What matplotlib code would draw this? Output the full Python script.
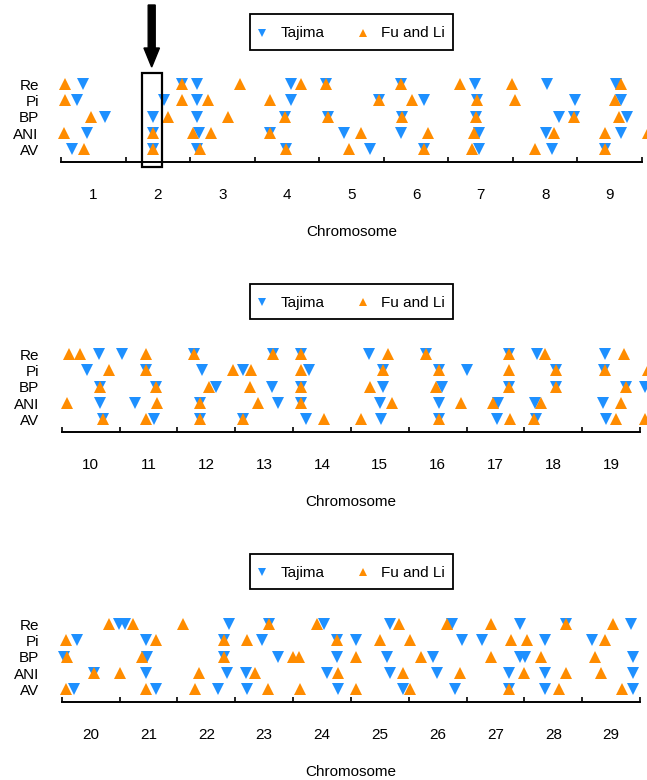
import numpy as np
import matplotlib
matplotlib.use("Agg")
import matplotlib.pyplot as plt
from matplotlib.lines import Line2D
from matplotlib.patches import Rectangle, FancyArrow
from matplotlib.legend_handler import HandlerLine2D

plt.rcParams['font.family'] = ['Liberation Sans', 'DejaVu Sans']

W, H = 647, 780
row_names = ["Re", "Pi", "BP", "ANI", "AV"]
row_y = {"Re": 5, "Pi": 4, "BP": 3, "ANI": 2, "AV": 1}

series_names = ["Tajima", "Fu and Li"]
blue = "#1E90FF"
orange = "#FF8C00"

# Panel 1: chromosomes 1-9 (positions in chromosome units, chromosome c spans c-0.5..c+0.5)
p1_chromosomes = [1, 2, 3, 4, 5, 6, 7, 8, 9]
p1_tajima = {
    "Re":  [0.84, 2.37, 2.60, 4.07, 4.61, 5.76, 6.91, 8.03, 9.10],
    "Pi":  [0.75, 2.09, 2.60, 4.07, 5.42, 6.13, 6.95, 8.46, 9.18],
    "BP":  [1.18, 1.93, 2.60, 3.97, 4.64, 5.79, 6.93, 8.22, 8.45, 9.27],
    "ANI": [0.91, 1.93, 2.63, 3.74, 4.88, 5.76, 6.97, 8.02, 9.17],
    "AV":  [0.67, 1.93, 2.60, 3.99, 5.29, 6.12, 6.98, 8.10, 8.92],
}
p1_fuli = {
    "Re":  [0.56, 2.37, 3.27, 4.22, 4.61, 5.76, 6.68, 7.48, 9.18],
    "Pi":  [0.56, 2.37, 2.78, 3.74, 5.42, 5.93, 6.95, 7.54, 9.08],
    "BP":  [0.96, 2.15, 3.09, 3.97, 4.64, 5.79, 6.93, 8.45, 9.15],
    "ANI": [0.55, 1.93, 2.55, 2.82, 3.74, 5.14, 6.19, 6.90, 8.14, 8.92, 9.59],
    "AV":  [0.86, 1.93, 2.65, 3.99, 4.96, 6.12, 6.86, 7.84, 8.92],
}

# Panel 2: chromosomes 10-19
p2_chromosomes = [10, 11, 12, 13, 14, 15, 16, 17, 18, 19]
p2_tajima = {
    "Re":  [10.15, 10.54, 11.78, 13.16, 13.64, 14.82, 15.80, 17.24, 17.72, 18.90],
    "Pi":  [9.93, 10.96, 11.92, 12.64, 13.77, 15.05, 16.03, 16.51, 18.05, 18.87],
    "BP":  [10.17, 11.13, 12.16, 13.14, 13.64, 15.05, 16.07, 17.23, 18.05, 19.25, 19.58],
    "ANI": [10.17, 10.76, 11.89, 13.24, 13.64, 15.01, 16.03, 17.05, 17.69, 18.86],
    "AV":  [10.22, 11.10, 11.89, 12.63, 13.72, 15.02, 16.03, 17.03, 17.71, 18.92],
}
p2_fuli = {
    "Re":  [9.63, 9.82, 10.96, 11.78, 13.16, 13.64, 15.15, 15.80, 17.24, 17.85, 19.22],
    "Pi":  [10.32, 10.96, 12.47, 12.77, 13.64, 15.05, 16.03, 17.23, 18.05, 18.90, 19.64],
    "BP":  [10.17, 11.13, 12.04, 12.76, 13.64, 14.83, 15.98, 17.23, 18.05, 19.25],
    "ANI": [9.60, 11.14, 11.89, 12.89, 13.64, 15.22, 16.40, 16.95, 17.78, 19.17],
    "AV":  [10.22, 10.96, 11.89, 12.63, 14.03, 14.67, 16.03, 17.26, 17.67, 19.09, 19.58],
}

# Panel 3: chromosomes 20-29
p3_chromosomes = [20, 21, 22, 23, 24, 25, 26, 27, 28, 29]
p3_tajima = {
    "Re":  [20.49, 20.60, 22.40, 23.09, 24.03, 25.17, 26.25, 27.43, 28.22, 29.35],
    "Pi":  [19.77, 20.96, 22.31, 22.97, 24.26, 24.59, 26.42, 26.77, 27.86, 28.67],
    "BP":  [19.54, 20.98, 22.30, 23.24, 24.26, 25.13, 25.92, 27.42, 27.52, 29.38],
    "ANI": [20.06, 20.96, 22.35, 22.69, 24.08, 25.17, 25.99, 27.23, 27.86, 29.38],
    "AV":  [19.72, 21.13, 22.21, 22.70, 24.28, 25.40, 26.30, 27.23, 27.86, 29.38],
}
p3_fuli = {
    "Re":  [20.31, 20.74, 21.59, 23.09, 23.91, 25.34, 26.16, 26.93, 28.22, 29.04],
    "Pi":  [19.57, 21.13, 22.31, 22.70, 24.26, 25.00, 25.53, 27.27, 27.55, 28.90],
    "BP":  [19.60, 20.89, 22.30, 23.50, 23.61, 24.59, 25.71, 26.92, 27.79, 28.73],
    "ANI": [20.06, 20.51, 21.88, 22.84, 24.28, 25.40, 26.38, 27.49, 28.22, 28.83],
    "AV":  [19.57, 20.96, 21.81, 23.07, 23.62, 24.59, 25.53, 27.23, 28.10, 29.19],
}

panels = [
    (p1_chromosomes, p1_tajima, p1_fuli),
    (p2_chromosomes, p2_tajima, p2_fuli),
    (p3_chromosomes, p3_tajima, p3_fuli),
]


class CenteredMarkerHandler(HandlerLine2D):
    """Legend marker shifted down so it sits at the middle of the text."""
    def create_artists(self, legend, orig_handle, xdescent, ydescent,
                       width, height, fontsize, trans):
        arts = super().create_artists(legend, orig_handle, xdescent, ydescent,
                                      width, height, fontsize, trans)
        for a in arts:
            a.set_ydata(np.asarray(a.get_ydata(), dtype=float) - 2.0)
        return arts


fig = plt.figure(figsize=(W / 100, H / 100), dpi=100)

# layout in pixels
ax_px = [(61.0, 642.0, 161.7), (61.7, 640.0, 431.7), (61.7, 640.0, 701.7)]
ax_h_px = 87.4
legend_cy_px = [32.0, 301.5, 571.5]
ms = 8
fs = 11

for (chroms, taj, fuli), (l, r, b), lcy in zip(panels, ax_px, legend_cy_px):
    ax = fig.add_axes([l / W, 1 - b / H, (r - l) / W, ax_h_px / H])
    lo, hi = chroms[0] - 0.5, chroms[-1] + 0.5
    ax.set_xlim(lo, hi)
    ax.set_ylim(0.24, 5.6)
    for name in row_names:
        xs = taj[name]
        ax.plot(xs, [row_y[name]] * len(xs), linestyle="none", marker="v",
                ms=ms, color=blue, markeredgewidth=0, clip_on=False, zorder=3)
    for name in row_names:
        xs = fuli[name]
        ax.plot(xs, [row_y[name]] * len(xs), linestyle="none", marker="^",
                ms=ms, color=orange, markeredgewidth=0, clip_on=False, zorder=4)
    for s in ["top", "right", "left"]:
        ax.spines[s].set_visible(False)
    ax.spines["bottom"].set_linewidth(1.4)
    ax.spines["bottom"].set_color("black")
    bounds = [c - 0.5 for c in chroms] + [chroms[-1] + 0.5]
    ax.set_xticks(bounds)
    ax.set_xticklabels([""] * len(bounds))
    ax.tick_params(axis="x", which="major", direction="in", length=3.5, width=1.2, color="black")
    ax.set_xticks(chroms, minor=True)
    ax.set_xticklabels([str(c) for c in chroms], minor=True, fontsize=fs)
    ax.tick_params(axis="x", which="minor", length=0, pad=19)
    ax.set_yticks([row_y[n] for n in row_names])
    ax.set_yticklabels(row_names, fontsize=fs)
    ax.tick_params(axis="y", length=0, pad=16)
    ax.set_xlabel("Chromosome", fontsize=fs, labelpad=16.5)
    ax.patch.set_visible(False)

    handles = [Line2D([], [], linestyle="none", marker="v", ms=6, color=blue, markeredgewidth=0),
               Line2D([], [], linestyle="none", marker="^", ms=6, color=orange, markeredgewidth=0)]
    leg = fig.legend(handles, series_names, loc="center",
                     bbox_to_anchor=(351.5 / W, 1 - lcy / H), ncol=2, frameon=True,
                     fancybox=False, edgecolor="black", framealpha=1, fontsize=fs,
                     handlelength=0.52, handleheight=1.55, handletextpad=0.92,
                     columnspacing=2.29, borderpad=0.52,
                     handler_map={Line2D: CenteredMarkerHandler()})
    leg.get_frame().set_linewidth(1.3)

    if chroms[0] == 1:
        # highlight box around chromosome 2
        rect = Rectangle((1.76, -0.07), 0.31, 5.75, fill=False, edgecolor="black",
                         linewidth=1.6, clip_on=False, zorder=5)
        ax.add_patch(rect)

# arrow pointing at the highlighted chromosome
arrow = FancyArrow(1.517, (H - 5) / 100, 0, -0.62, width=0.07, head_width=0.155,
                   head_length=0.19, length_includes_head=True, color="black",
                   transform=fig.dpi_scale_trans)
fig.add_artist(arrow)

fig.savefig("out.png", dpi=100)
